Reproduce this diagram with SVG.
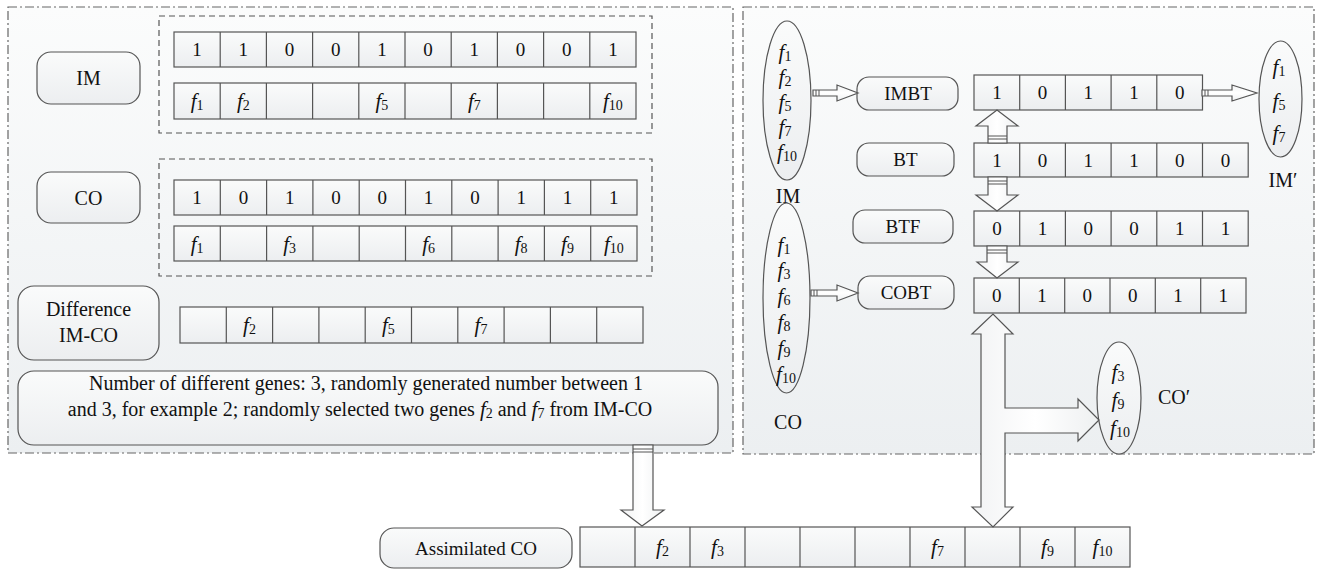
<svg xmlns="http://www.w3.org/2000/svg" width="1318" height="569" viewBox="0 0 1318 569" font-family="'Liberation Serif', 'Times New Roman', serif">
<defs>
<linearGradient id="pg" x1="0" y1="0" x2="0" y2="1"><stop offset="0" stop-color="#fbfcfc"/><stop offset="1" stop-color="#eceff1"/></linearGradient>
<linearGradient id="cg" x1="0" y1="0" x2="0" y2="1"><stop offset="0" stop-color="#fafbfb"/><stop offset="1" stop-color="#eceef0"/></linearGradient>
<linearGradient id="ag" x1="0" y1="0" x2="1" y2="0"><stop offset="0" stop-color="#f2f3f4"/><stop offset="0.5" stop-color="#ffffff"/><stop offset="1" stop-color="#eef0f1"/></linearGradient>
<linearGradient id="ah" x1="0" y1="0" x2="0" y2="1"><stop offset="0" stop-color="#f2f3f4"/><stop offset="0.5" stop-color="#ffffff"/><stop offset="1" stop-color="#eef0f1"/></linearGradient>
<style>
.panel{fill:url(#pg);stroke:#666;stroke-width:1.2;stroke-dasharray:9 3 2 3}
.dash{fill:none;stroke:#555;stroke-width:1.2;stroke-dasharray:6 4}
.box{fill:url(#cg);stroke:#555;stroke-width:1.2}
.cell{fill:url(#cg);stroke:#555;stroke-width:1.2}
.ln{stroke:#555;stroke-width:1.2}
.ell{fill:url(#cg);stroke:#555;stroke-width:1.2}
.arr{fill:url(#ag);stroke:#555;stroke-width:1.2}
.arh{fill:url(#ah);stroke:#555;stroke-width:1.2}
.st{stroke:#555;stroke-width:1}
text{font-family:"Liberation Serif","Times New Roman",serif;font-size:19px;fill:#111;text-anchor:middle;dominant-baseline:central}
.f{font-style:italic;font-size:21px}
.sb{font-size:14px}
.big{font-size:20px}
.lab{font-size:20px}
</style>
</defs>

<g id="left-panel">
<rect class="panel" x="8" y="7" width="725" height="446"/>
</g>
<g id="right-panel">
<rect class="panel" x="743" y="7" width="571" height="447"/>
</g>

<g id="im-label">
<rect class="box" x="37" y="52" width="103" height="52" rx="14"/>
<text class="lab" x="88.5" y="78">IM</text>
</g>
<g id="im-group">
<rect class="dash" x="159" y="16" width="493" height="117"/>
<rect class="cell" x="174" y="32" width="462" height="35"/>
<path class="ln" d="M220.2,32V67M266.4,32V67M312.6,32V67M358.8,32V67M405,32V67M451.2,32V67M497.4,32V67M543.6,32V67M589.8,32V67"/>
<text x="197.1" y="49.5">1</text><text x="243.3" y="49.5">1</text><text x="289.5" y="49.5">0</text><text x="335.7" y="49.5">0</text><text x="381.9" y="49.5">1</text><text x="428.1" y="49.5">0</text><text x="474.3" y="49.5">1</text><text x="520.5" y="49.5">0</text><text x="566.7" y="49.5">0</text><text x="612.9" y="49.5">1</text>
<rect class="cell" x="174" y="83" width="462" height="36"/>
<path class="ln" d="M220.2,83V119M266.4,83V119M312.6,83V119M358.8,83V119M405,83V119M451.2,83V119M497.4,83V119M543.6,83V119M589.8,83V119"/>
<text x="197.1" y="101"><tspan class="f">f</tspan><tspan class="sb" dy="4">1</tspan></text>
<text x="243.3" y="101"><tspan class="f">f</tspan><tspan class="sb" dy="4">2</tspan></text>
<text x="381.9" y="101"><tspan class="f">f</tspan><tspan class="sb" dy="4">5</tspan></text>
<text x="474.3" y="101"><tspan class="f">f</tspan><tspan class="sb" dy="4">7</tspan></text>
<text x="612.9" y="101"><tspan class="f">f</tspan><tspan class="sb" dy="4">10</tspan></text>
</g>

<g id="co-label">
<rect class="box" x="37" y="172" width="103" height="51" rx="14"/>
<text class="lab" x="88.5" y="197.5">CO</text>
</g>
<g id="co-group">
<rect class="dash" x="159" y="159" width="493" height="117"/>
<rect class="cell" x="174" y="180" width="463" height="35"/>
<path class="ln" d="M220.3,180V215M266.6,180V215M312.9,180V215M359.2,180V215M405.5,180V215M451.8,180V215M498.1,180V215M544.4,180V215M590.7,180V215"/>
<text x="197.1" y="197.5">1</text><text x="243.4" y="197.5">0</text><text x="289.7" y="197.5">1</text><text x="336" y="197.5">0</text><text x="382.3" y="197.5">0</text><text x="428.6" y="197.5">1</text><text x="474.9" y="197.5">0</text><text x="521.2" y="197.5">1</text><text x="567.5" y="197.5">1</text><text x="613.8" y="197.5">1</text>
<rect class="cell" x="174" y="226" width="463" height="35"/>
<path class="ln" d="M220.3,226V261M266.6,226V261M312.9,226V261M359.2,226V261M405.5,226V261M451.8,226V261M498.1,226V261M544.4,226V261M590.7,226V261"/>
<text x="197.1" y="243.5"><tspan class="f">f</tspan><tspan class="sb" dy="4">1</tspan></text>
<text x="289.7" y="243.5"><tspan class="f">f</tspan><tspan class="sb" dy="4">3</tspan></text>
<text x="428.6" y="243.5"><tspan class="f">f</tspan><tspan class="sb" dy="4">6</tspan></text>
<text x="521.2" y="243.5"><tspan class="f">f</tspan><tspan class="sb" dy="4">8</tspan></text>
<text x="567.5" y="243.5"><tspan class="f">f</tspan><tspan class="sb" dy="4">9</tspan></text>
<text x="613.8" y="243.5"><tspan class="f">f</tspan><tspan class="sb" dy="4">10</tspan></text>
</g>

<g id="difference">
<rect class="box" x="18" y="286" width="141" height="74" rx="16"/>
<text class="lab" x="88.5" y="309">Difference</text>
<text class="lab" x="88.5" y="335">IM-CO</text>
<rect class="cell" x="180" y="307" width="463" height="36"/>
<path class="ln" d="M226.3,307V343M272.6,307V343M318.9,307V343M365.2,307V343M411.5,307V343M457.8,307V343M504.1,307V343M550.4,307V343M596.7,307V343"/>
<text x="249.5" y="325"><tspan class="f">f</tspan><tspan class="sb" dy="4">2</tspan></text>
<text x="388.4" y="325"><tspan class="f">f</tspan><tspan class="sb" dy="4">5</tspan></text>
<text x="481" y="325"><tspan class="f">f</tspan><tspan class="sb" dy="4">7</tspan></text>
</g>

<g id="number-note">
<rect class="box" x="18" y="371" width="700" height="74" rx="16"/>
<text class="big" x="366" y="383">Number of different genes: 3, randomly generated number between 1</text>
<text class="big" x="360" y="409">and 3, for example 2; randomly selected two genes <tspan class="f">f</tspan><tspan class="sb" dy="4">2</tspan><tspan dy="-4"> and </tspan><tspan class="f">f</tspan><tspan class="sb" dy="4">7</tspan><tspan dy="-4"> from IM-CO</tspan></text>
</g>

<g id="im-set">
<ellipse class="ell" cx="787" cy="100.5" rx="24" ry="79.5"/>
<text x="785" y="52"><tspan class="f">f</tspan><tspan class="sb" dy="4">1</tspan></text>
<text x="785" y="77"><tspan class="f">f</tspan><tspan class="sb" dy="4">2</tspan></text>
<text x="785" y="102"><tspan class="f">f</tspan><tspan class="sb" dy="4">5</tspan></text>
<text x="785" y="127"><tspan class="f">f</tspan><tspan class="sb" dy="4">7</tspan></text>
<text x="787" y="152"><tspan class="f">f</tspan><tspan class="sb" dy="4">10</tspan></text>
<text class="lab" x="788" y="196">IM</text>
</g>

<g id="imbt">
<rect class="box" x="857" y="77" width="101" height="33" rx="12"/>
<text x="908" y="93.5">IMBT</text>
<rect class="cell" x="974" y="75" width="228.5" height="35"/>
<path class="ln" d="M1019.7,75V110M1065.4,75V110M1111.1,75V110M1156.8,75V110"/>
<text x="996.9" y="92.5">1</text><text x="1042.6" y="92.5">0</text><text x="1088.3" y="92.5">1</text><text x="1134" y="92.5">1</text><text x="1179.7" y="92.5">0</text>
</g>

<g id="im-prime">
<ellipse class="ell" cx="1280.5" cy="99" rx="21.5" ry="58"/>
<text x="1279" y="67"><tspan class="f">f</tspan><tspan class="sb" dy="4">1</tspan></text>
<text x="1279" y="101"><tspan class="f">f</tspan><tspan class="sb" dy="4">5</tspan></text>
<text x="1279" y="133"><tspan class="f">f</tspan><tspan class="sb" dy="4">7</tspan></text>
<text class="lab" x="1283" y="180">IM′</text>
</g>

<g id="bt">
<rect class="box" x="857" y="143" width="97" height="33" rx="12"/>
<text x="905.5" y="159.5">BT</text>
<rect class="cell" x="974" y="143" width="274.2" height="34"/>
<path class="ln" d="M1019.7,143V177M1065.4,143V177M1111.1,143V177M1156.8,143V177M1202.5,143V177"/>
<text x="996.9" y="160">1</text><text x="1042.6" y="160">0</text><text x="1088.3" y="160">1</text><text x="1134" y="160">1</text><text x="1179.7" y="160">0</text><text x="1225.4" y="160">0</text>
</g>

<g id="btf">
<rect class="box" x="853" y="210" width="100" height="33" rx="12"/>
<text x="903" y="226.5">BTF</text>
<rect class="cell" x="974" y="211" width="274.2" height="35"/>
<path class="ln" d="M1019.7,211V246M1065.4,211V246M1111.1,211V246M1156.8,211V246M1202.5,211V246"/>
<text x="996.9" y="228.5">0</text><text x="1042.6" y="228.5">1</text><text x="1088.3" y="228.5">0</text><text x="1134" y="228.5">0</text><text x="1179.7" y="228.5">1</text><text x="1225.4" y="228.5">1</text>
</g>

<g id="co-set">
<ellipse class="ell" cx="786.5" cy="298" rx="23.5" ry="95"/>
<text x="784" y="245"><tspan class="f">f</tspan><tspan class="sb" dy="4">1</tspan></text>
<text x="784" y="270"><tspan class="f">f</tspan><tspan class="sb" dy="4">3</tspan></text>
<text x="784" y="296"><tspan class="f">f</tspan><tspan class="sb" dy="4">6</tspan></text>
<text x="784" y="322"><tspan class="f">f</tspan><tspan class="sb" dy="4">8</tspan></text>
<text x="784" y="348"><tspan class="f">f</tspan><tspan class="sb" dy="4">9</tspan></text>
<text x="786" y="374"><tspan class="f">f</tspan><tspan class="sb" dy="4">10</tspan></text>
<text class="lab" x="788" y="422">CO</text>
</g>

<g id="cobt">
<rect class="box" x="858" y="276" width="96" height="33" rx="12"/>
<text x="906" y="292.5">COBT</text>
<rect class="cell" x="974" y="278" width="272" height="35"/>
<path class="ln" d="M1019.3,278V313M1064.7,278V313M1110,278V313M1155.3,278V313M1200.7,278V313"/>
<text x="996.7" y="295.5">0</text><text x="1042" y="295.5">1</text><text x="1087.3" y="295.5">0</text><text x="1132.7" y="295.5">0</text><text x="1178" y="295.5">1</text><text x="1223.3" y="295.5">1</text>
</g>

<g id="co-prime">
<ellipse class="ell" cx="1119" cy="398" rx="22" ry="56"/>
<text x="1118" y="372"><tspan class="f">f</tspan><tspan class="sb" dy="4">3</tspan></text>
<text x="1118" y="400"><tspan class="f">f</tspan><tspan class="sb" dy="4">9</tspan></text>
<text x="1120" y="428"><tspan class="f">f</tspan><tspan class="sb" dy="4">10</tspan></text>
<text class="lab" x="1174" y="397">CO′</text>
</g>

<g id="assimilated">
<rect class="box" x="380" y="528" width="192" height="40" rx="14"/>
<text x="476" y="548">Assimilated CO</text>
<rect class="cell" x="580" y="527" width="550" height="40"/>
<path class="ln" d="M635,527V567M690,527V567M745,527V567M800,527V567M855,527V567M910,527V567M965,527V567M1020,527V567M1075,527V567"/>
<text x="662.5" y="547"><tspan class="f">f</tspan><tspan class="sb" dy="4">2</tspan></text>
<text x="717.5" y="547"><tspan class="f">f</tspan><tspan class="sb" dy="4">3</tspan></text>
<text x="937.5" y="547"><tspan class="f">f</tspan><tspan class="sb" dy="4">7</tspan></text>
<text x="1047.5" y="547"><tspan class="f">f</tspan><tspan class="sb" dy="4">9</tspan></text>
<text x="1102.5" y="547"><tspan class="f">f</tspan><tspan class="sb" dy="4">10</tspan></text>
</g>

<g id="connectors">
<path class="arh" d="M813,90H837V85L858,93L837,101V96H813Z"/>
<path class="st" d="M816,90V96M819,90V96"/>
<path class="arh" d="M1202,90H1232V85L1257,93L1232,101V96H1202Z"/>
<path class="st" d="M1205,90V96M1208,90V96"/>
<path class="arh" d="M811,290H837V285L858,293L837,301V296H811Z"/>
<path class="st" d="M814,290V296M817,290V296"/>
<path class="arr" d="M988,143V126H976L997,110L1018,126H1007V143Z"/>
<path class="st" d="M988,136H1007M988,139H1007"/>
<path class="arr" d="M988,177V195H976L997,211L1018,195H1007V177Z"/>
<path class="st" d="M988,181H1007M988,184H1007"/>
<path class="arr" d="M987,246V262H977L997,278L1018,262H1007V246Z"/>
<path class="st" d="M987,250H1007M987,253H1007"/>
<path class="arr" d="M981,507V334H972L993,314L1013,334H1005V408H1078V399L1099,420L1078,441V433H1005V507H1013L993,527L972,507Z"/>
<path class="arr" d="M633,445V510H621L642,526L664,510H653V445Z"/>
<path class="st" d="M633,449H653M633,452H653"/>
</g>
</svg>
